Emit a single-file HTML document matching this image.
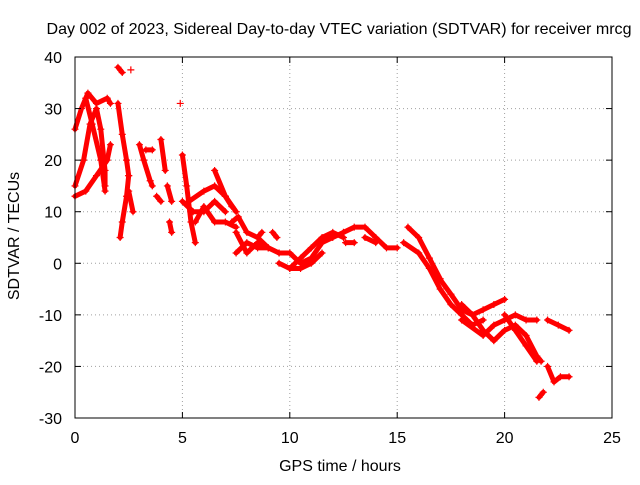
<!DOCTYPE html>
<html><head><meta charset="utf-8"><style>
body{margin:0;background:#fff;}
svg text{font-family:"Liberation Sans",sans-serif;font-size:16px;fill:#000;}
</style></head><body>
<svg id="chart" width="640" height="480">
<text x="339" y="34" text-anchor="middle" textLength="585" lengthAdjust="spacingAndGlyphs">Day 002 of 2023, Sidereal Day-to-day VTEC variation (SDTVAR) for receiver mrcg</text>
<text x="340" y="471" text-anchor="middle">GPS time / hours</text>
<text transform="translate(19,236) rotate(-90)" text-anchor="middle">SDTVAR / TECUs</text>
<g id="grid"></g><g id="marks"></g><g id="axes"></g>
</svg>
<script>
const xTicks=[0,5,10,15,20,25];
const yTicks=[-30,-20,-10,0,10,20,30,40];
const tracks=[
[[0,13],[0.5,14],[1,17],[1.5,20],[1.65,23]],
[[0,26],[0.3,30],[0.6,33],[1,31],[1.5,32],[1.65,31]],
[[0,15],[0.4,20],[0.7,27],[1,30],[1.2,26],[1.4,18],[1.4,15]],
[[0.5,32],[0.8,27],[1.2,20],[1.4,14]],
[[2,31],[2.2,25],[2.4,20],[2.5,17]],
[[2.1,5],[2.2,8],[2.4,13],[2.5,17]],
[[2.5,14],[2.7,10]],
[[3,23],[3.2,20],[3.5,16],[3.6,15]],
[[3.3,22],[3.6,22]],
[[3.8,13],[4,12]],
[[4,24],[4.2,18]],
[[4.3,15],[4.5,12]],
[[4.4,8],[4.5,6]],
[[5,21],[5.2,15],[5.4,8],[5.6,4]],
[[5,12],[5.5,10],[6,10],[6.5,12],[7,10]],
[[5.3,12],[6,14],[6.5,15],[7,13],[7.3,11]],
[[5.6,8],[6,11],[6.5,8],[7,8],[7.5,7]],
[[6.5,18],[7,13],[7.5,10]],
[[7.3,8],[7.6,9],[8,6],[8.5,5],[9,3]],
[[7.5,6],[8,2],[8.5,4],[9,3],[9.5,2]],
[[7.5,2],[8,4],[8.5,3],[9,3]],
[[8.5,5],[8.7,6]],
[[9.2,6],[9.4,5]],
[[9.5,0],[10,-1],[10.5,1],[11,3],[11.5,5],[12,6],[12.5,5]],
[[9.5,2],[10,2],[10.5,0],[11,1],[11.5,4],[12,5],[12.5,6]],
[[10,-1],[10.5,-1],[11,0],[11.5,2]],
[[12.5,6],[13,7],[13.5,7],[14,5],[14.5,3],[15,3]],
[[12.6,4],[13,4]],
[[13.5,5],[14,4]],
[[15.5,7],[16,5],[16.5,1],[17,-3]],
[[15.3,4],[16,2],[16.5,-1]],
[[16.5,-1],[17,-5],[17.5,-8],[18,-10],[18.5,-12],[19,-11]],
[[16.8,-2],[17.5,-6],[18,-9],[18.5,-10],[19,-13],[19.5,-15]],
[[18,-8],[18.5,-10],[19,-9],[19.5,-8],[20,-7]],
[[18,-11],[19,-14],[19.5,-12],[20,-11],[20.5,-10],[21,-11],[21.5,-11]],
[[19.5,-15],[20,-13],[20.5,-12],[21,-14],[21.5,-18],[21.7,-19]],
[[20,-10],[20.5,-13],[21,-16],[21.5,-19]],
[[22,-11],[22.5,-12],[23,-13]],
[[22,-20],[22.3,-23],[22.6,-22],[23,-22]],
[[21.6,-26],[21.8,-25]],
[[2,38],[2.2,37]],
[[2.6,37.5]],
[[4.9,31]]
];
const NS="http://www.w3.org/2000/svg";
const L=75,R=612,T=57,B=418;
const xs=v=>L+(v-0)/25*(R-L);
const ys=v=>B-(v+30)/70*(B-T);
function mk(tag,attrs,parent){const e=document.createElementNS(NS,tag);for(const k in attrs)e.setAttribute(k,attrs[k]);parent.appendChild(e);return e;}
const grid=document.getElementById('grid'),axes=document.getElementById('axes'),marks=document.getElementById('marks');
xTicks.forEach(t=>{
 const x=xs(t);
 if(t>0&&t<25){const g=mk('line',{x1:x,x2:x,y1:T,y2:B,stroke:'#a0a0a0','stroke-dasharray':'1,3'},grid);
 
 }
 mk('line',{x1:x,x2:x,y1:B,y2:B-6,stroke:'#000'},axes);
 mk('line',{x1:x,x2:x,y1:T,y2:T+6,stroke:'#000'},axes);
 const tx=mk('text',{x:x,y:B+25,'text-anchor':'middle'},axes);tx.textContent=t;
 
 
});
yTicks.forEach(t=>{
 const y=ys(t);
 if(t>-30&&t<40){const g=mk('line',{x1:L,x2:R,y1:y,y2:y,stroke:'#a0a0a0','stroke-dasharray':'1,3'},grid);
 
 }
 mk('line',{x1:L,x2:L+6,y1:y,y2:y,stroke:'#000'},axes);
 mk('line',{x1:R,x2:R-6,y1:y,y2:y,stroke:'#000'},axes);
 const tx=mk('text',{x:L-13,y:y+6,'text-anchor':'end'},axes);tx.textContent=t;
 
 
});
const frame=mk('rect',{x:L,y:T,width:R-L,height:B-T,fill:'none',stroke:'#000'},axes);


tracks.forEach(tr=>{
 const g=mk('g',{},marks);
 
 
 if(tr.length>1){mk('polyline',{points:tr.map(p=>xs(p[0])+','+ys(p[1])).join(' '),fill:'none',stroke:'#f00','stroke-width':5,'stroke-linejoin':'round','stroke-linecap':'round'},g);}
 tr.forEach(p=>{const x=xs(p[0]),y=ys(p[1]);
  const m=mk('path',{d:`M${x-3.5},${y}H${x+3.5}M${x},${y-3.5}V${y+3.5}`,stroke:'#f00','stroke-width':1.2},g);
  
  
 });
});
</script>
</body></html>
